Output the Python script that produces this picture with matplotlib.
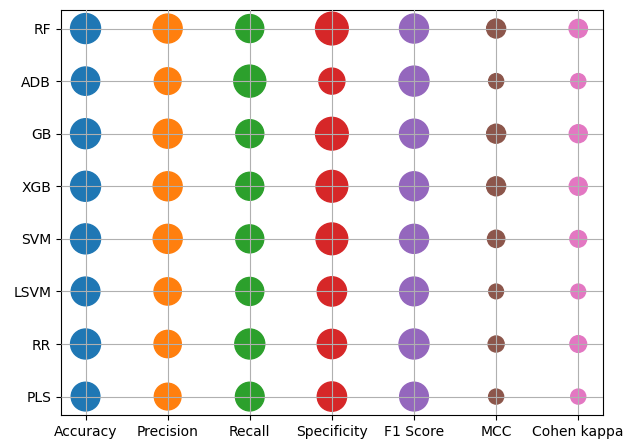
import matplotlib.pyplot as plt
import numpy as np

models = ["RF", "ADB", "GB", "XGB", "SVM", "LSVM", "RR", "PLS"]
metrics = ["Accuracy", "Precision", "Recall", "Specificity", "F1 Score", "MCC", "Cohen kappa"]

# bubble areas (points^2), one list per metric, rows in model order
accuracy = [466, 415, 466, 466, 466, 427, 466, 427]
precision = [436, 370, 436, 436, 436, 386, 386, 370]
recall = [406, 531, 406, 406, 406, 406, 466, 427]
specificity = [554, 350, 554, 521, 521, 445, 445, 445]
f1_score = [436, 466, 436, 436, 436, 427, 466, 427]
mcc = [187, 117, 187, 187, 155, 112, 133, 117]
cohen_kappa = [174, 117, 168, 168, 145, 112, 145, 117]

sizes = [accuracy, precision, recall, specificity, f1_score, mcc, cohen_kappa]

fig = plt.figure(figsize=(6.28, 4.41), dpi=100)
ax = fig.add_axes([0.097, 0.059, 0.863, 0.918])

y = np.arange(len(models))
for i, metric in enumerate(metrics):
    ax.scatter(np.full(len(models), i), y, s=sizes[i], color="C%d" % i, zorder=1)

ax.set_xticks(range(len(metrics)))
ax.set_xticklabels(metrics)
ax.set_yticks(y)
ax.set_yticklabels(models)
ax.invert_yaxis()
ax.grid(True, zorder=3)
ax.set_axisbelow(False)

fig.savefig("out.png")
